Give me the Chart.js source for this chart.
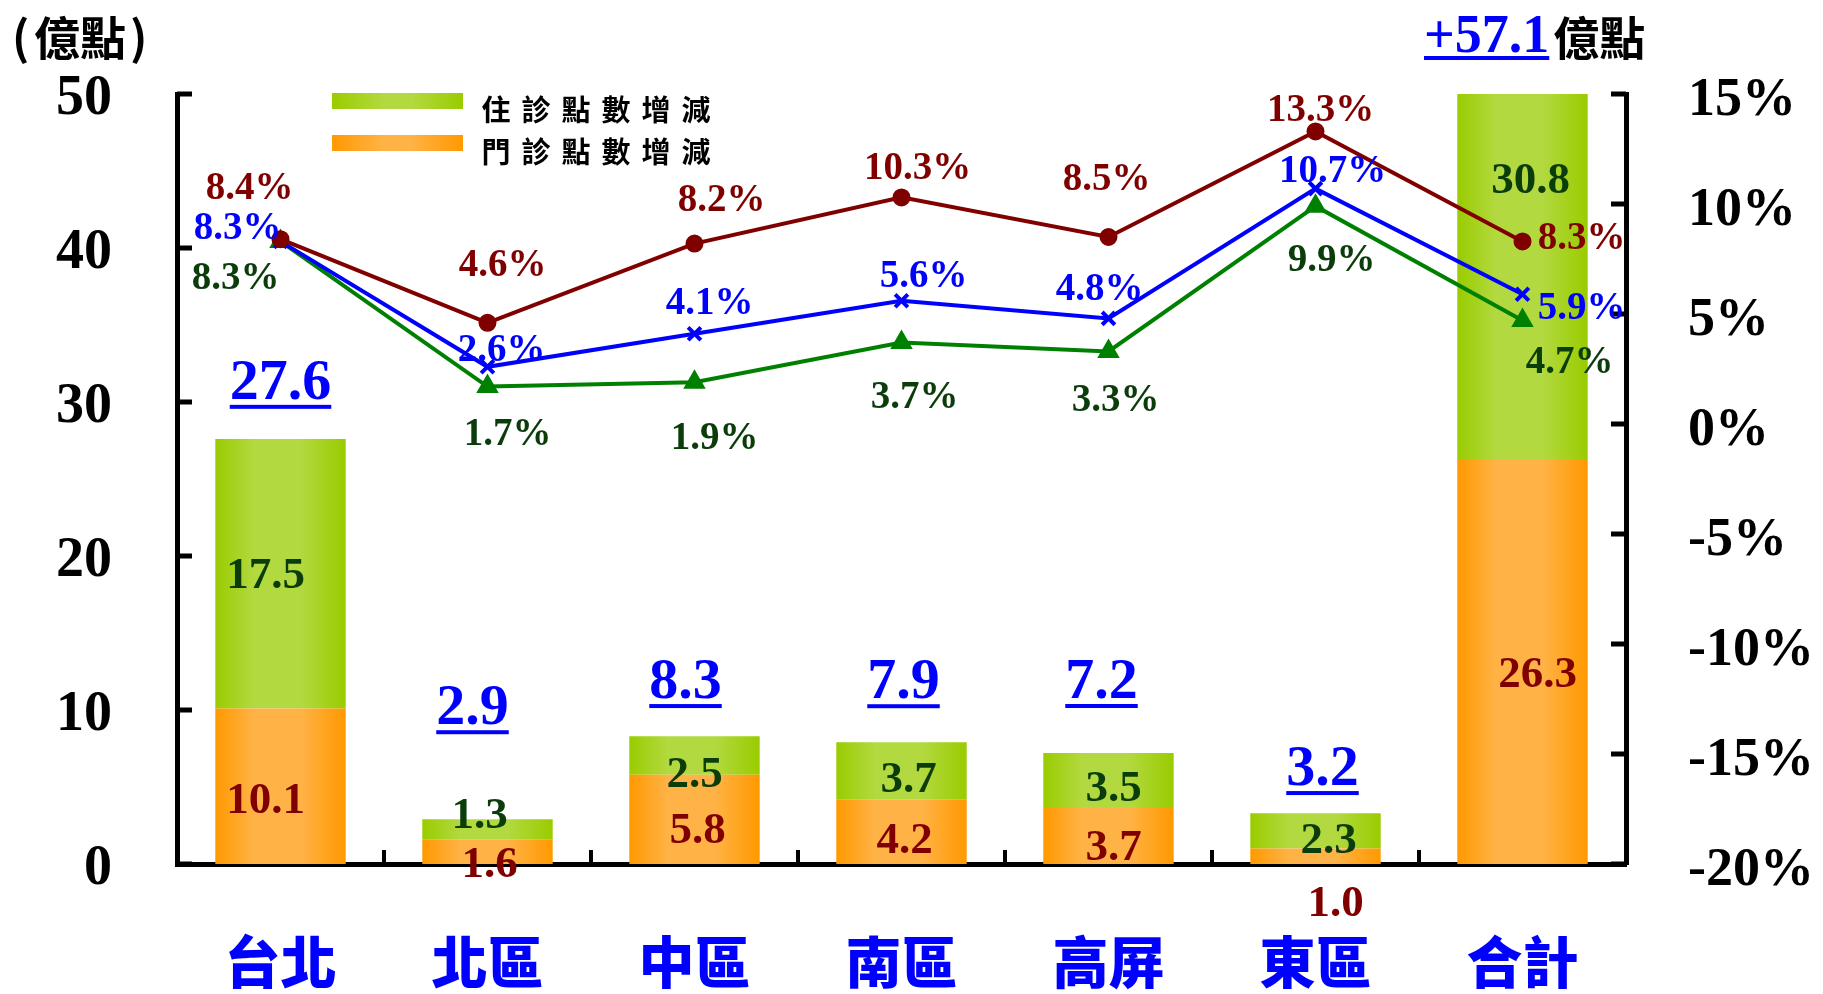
<!DOCTYPE html>
<html lang="zh-Hant">
<head>
<meta charset="utf-8">
<title>各區門住診點數增減</title>
<script src="https://cdn.jsdelivr.net/npm/chart.js@4.4.1/dist/chart.umd.min.js"></script>
<style>
  html, body { margin: 0; padding: 0; background: #fff; }
  #wrap { width: 1823px; height: 994px; }
</style>
</head>
<body>
<div id="wrap"><canvas id="chart" width="1823" height="994"></canvas></div>
<script>
// 各區點數增減 (億點) 與成長率 (%)
const regions = ['台北', '北區', '中區', '南區', '高屏', '東區', '合計'];
const outpatient = [10.1, 1.6, 5.8, 4.2, 3.7, 1.0, 26.3];   // 門診點數增減
const inpatient = [17.5, 1.3, 2.5, 3.7, 3.5, 2.3, 30.8];    // 住診點數增減
const totals = [27.6, 2.9, 8.3, 7.9, 7.2, 3.2, 57.1];
const rateRed = [8.4, 4.6, 8.2, 10.3, 8.5, 13.3, 8.3];
const rateBlue = [8.3, 2.6, 4.1, 5.6, 4.8, 10.7, 5.9];
const rateGreen = [8.3, 1.7, 1.9, 3.7, 3.3, 9.9, 4.7];
const leftTicks = [0, 10, 20, 30, 40, 50];
const rightTicks = [-20, -15, -10, -5, 0, 5, 10, 15];

// label nudges in pixels [dx, dy]
const redNudge = [[-31, -50], [15, -57], [27, -43], [16, -28], [-2, -57], [5, -20], [59, -2]];
const blueNudge = [[-43, -12], [14, -16], [15, -30], [22, -24], [-9, -28], [17, -17], [59, 15]];
const greenNudge = [[-45, 38], [20, 48], [20, 57], [13, 55], [7, 50], [16, 55], [47, 42]];
const inNudge = [[-15, 3], [-8, -13], [0, 20], [7, 10], [5, 9], [13, 10], [8, -40]];
const outNudge = [[-15, 15], [2, 14], [3, 12], [3, 10], [5, 13], [20, 48], [15, 14]];
const totalNudge = [[0, -55], [-15, -110], [-9, -53], [2, -59], [-7, -70], [7, -43]];

const SERIF = '"Liberation Serif", "Times New Roman", serif';
const CJK = '"Noto Sans CJK TC", "Noto Sans CJK SC", sans-serif';
const BAR_PCT = 0.63;

function barFill(edge, mid) {
  return (ctx) => {
    const chart = ctx.chart;
    const xs = chart.scales.x;
    if (!chart.chartArea || !xs || ctx.type !== 'data') return mid;
    const cx = xs.getPixelForValue(ctx.dataIndex);
    const half = xs.width / regions.length * BAR_PCT / 2;
    const g = chart.ctx.createLinearGradient(cx - half, 0, cx + half, 0);
    g.addColorStop(0, edge);
    g.addColorStop(0.3, mid);
    g.addColorStop(0.65, mid);
    g.addColorStop(1, edge);
    return g;
  };
}

function drawText(c, str, x, y, font, color) {
  c.font = font;
  c.fillStyle = color;
  c.textAlign = 'center';
  c.textBaseline = 'middle';
  c.fillText(str, x, y);
}

function underline(c, str, x, y, size, color) {
  const w = c.measureText(str).width;
  c.fillStyle = color;
  c.fillRect(x - w / 2, y + size * 0.36, w, 4);
}

const annotate = {
  id: 'annotate',
  afterDraw(chart) {
    const c = chart.ctx;
    const { x, y, y1 } = chart.scales;
    const area = chart.chartArea;
    c.save();

    // inward tick marks
    c.fillStyle = '#000';
    y.ticks.forEach((t) => {
      const py = y.getPixelForValue(t.value);
      c.fillRect(area.left, py - 2.5, 15, 5);
    });
    y1.ticks.forEach((t) => {
      const py = y1.getPixelForValue(t.value);
      c.fillRect(area.right - 15, py - 2.5, 15, 5);
    });
    for (let i = 1; i < regions.length; i++) {
      const px = (x.getPixelForValue(i) + x.getPixelForValue(i - 1)) / 2;
      c.fillRect(px - 2, area.bottom - 14, 4, 14);
    }

    // bar segment values
    regions.forEach((r, i) => {
      const cx = x.getPixelForValue(i);
      const oy = y.getPixelForValue(outpatient[i] / 2);
      drawText(c, outpatient[i].toFixed(1), cx + outNudge[i][0], oy + outNudge[i][1],
        'bold 45px ' + SERIF, '#800000');
      const iy = y.getPixelForValue(outpatient[i] + inpatient[i] / 2);
      drawText(c, inpatient[i].toFixed(1), cx + inNudge[i][0], iy + inNudge[i][1],
        'bold 45px ' + SERIF, '#0b3d0b');
    });

    // stack totals, underlined
    totalNudge.forEach((n, i) => {
      const cx = x.getPixelForValue(i) + n[0];
      const ty = y.getPixelForValue(outpatient[i] + inpatient[i]) + n[1];
      const s = totals[i].toFixed(1);
      drawText(c, s, cx, ty, 'bold 58px ' + SERIF, '#0000ff');
      underline(c, s, cx, ty, 58, '#0000ff');
    });

    // growth-rate labels
    const rates = [
      [rateRed, redNudge, '#800000', 2],
      [rateBlue, blueNudge, '#0000ff', 3],
      [rateGreen, greenNudge, '#0b3d0b', 4],
    ];
    rates.forEach(([vals, nudge, color, ds]) => {
      const meta = chart.getDatasetMeta(ds);
      meta.data.forEach((pt, i) => {
        drawText(c, vals[i].toFixed(1) + '%', pt.x + nudge[i][0], pt.y + nudge[i][1],
          'bold 39px ' + SERIF, color);
      });
    });

    // legend
    const swatches = [
      ['住診點數增減', '#99cc00', '#b3d940', 93],
      ['門診點數增減', '#ff9900', '#ffb347', 135],
    ];
    swatches.forEach(([label, edge, mid, top]) => {
      const g = c.createLinearGradient(332, 0, 463, 0);
      g.addColorStop(0, edge);
      g.addColorStop(0.4, mid);
      g.addColorStop(0.6, mid);
      g.addColorStop(1, edge);
      c.fillStyle = g;
      c.fillRect(332, top, 131, 16);
      c.font = 'bold 29px ' + CJK;
      c.fillStyle = '#000';
      c.textAlign = 'center';
      c.textBaseline = 'middle';
      [...label].forEach((ch, k) => c.fillText(ch, 496 + k * 40, top + 17));
    });

    // unit and grand total heading
    c.textAlign = 'left';
    c.textBaseline = 'middle';
    c.font = 'bold 46px ' + CJK;
    c.fillStyle = '#000';
    c.fillText('(', 12, 38);
    c.fillText('億點', 34, 38);
    c.fillText(')', 130, 38);

    const head = '+' + totals[totals.length - 1].toFixed(1);
    c.font = 'bold 54px ' + SERIF;
    const hw = c.measureText(head).width;
    c.fillStyle = '#0000ff';
    c.fillText(head, 1424, 38);
    c.fillRect(1424, 56, hw, 4);
    c.font = 'bold 46px ' + CJK;
    c.fillStyle = '#000';
    c.fillText('億點', 1424 + hw + 4, 38);

    c.restore();
  }
};

new Chart(document.getElementById('chart'), {
  data: {
    labels: regions,
    datasets: [
      {
        type: 'bar', label: '門診點數增減', data: outpatient, yAxisID: 'y', stack: 's', order: 2,
        backgroundColor: barFill('#ff9900', '#ffb347'),
        categoryPercentage: 1, barPercentage: BAR_PCT, borderWidth: 0
      },
      {
        type: 'bar', label: '住診點數增減', data: inpatient, yAxisID: 'y', stack: 's', order: 2,
        backgroundColor: barFill('#99cc00', '#b3d940'),
        categoryPercentage: 1, barPercentage: BAR_PCT, borderWidth: 0
      },
      {
        type: 'line', label: 'red', data: rateRed, yAxisID: 'y1', order: 1,
        borderColor: '#800000', backgroundColor: '#800000', borderWidth: 4,
        pointStyle: 'circle', pointRadius: 7, tension: 0
      },
      {
        type: 'line', label: 'blue', data: rateBlue, yAxisID: 'y1', order: 1,
        borderColor: '#0000ff', backgroundColor: '#0000ff', borderWidth: 4,
        pointStyle: 'crossRot', pointRadius: 9, pointBorderWidth: 4, tension: 0
      },
      {
        type: 'line', label: 'green', data: rateGreen, yAxisID: 'y1', order: 1,
        borderColor: '#008000', backgroundColor: '#008000', borderWidth: 4,
        pointStyle: 'triangle', pointRadius: 9, tension: 0
      }
    ]
  },
  options: {
    responsive: false,
    animation: false,
    events: [],
    layout: { padding: { top: 94, left: 0, right: 0, bottom: 0 } },
    plugins: { legend: { display: false }, tooltip: { enabled: false } },
    scales: {
      x: {
        type: 'category',
        offset: true,
        stacked: true,
        grid: { display: false, drawTicks: false },
        border: { display: true, color: '#000', width: 5 },
        ticks: { color: '#0000ff', padding: 64, font: { family: CJK, size: 56, weight: '900' } },
        afterFit(scale) { scale.height = 130; }
      },
      y: {
        position: 'left',
        stacked: true,
        min: leftTicks[0],
        max: leftTicks[leftTicks.length - 1],
        grid: { display: false, drawTicks: false },
        border: { display: true, color: '#000', width: 5 },
        ticks: {
          stepSize: 10, color: '#000', padding: 65, labelOffset: 6,
          font: { family: SERIF, size: 56, weight: 'bold', lineHeight: 0.5 }
        },
        afterFit(scale) { scale.width = 177; }
      },
      y1: {
        position: 'right',
        min: rightTicks[0],
        max: rightTicks[rightTicks.length - 1],
        grid: { display: false, drawTicks: false },
        border: { display: true, color: '#000', width: 5 },
        ticks: {
          stepSize: 5, color: '#000', padding: 62, labelOffset: 7,
          font: { family: SERIF, size: 54, weight: 'bold', lineHeight: 0.5 },
          callback: (v) => v + '%'
        },
        afterFit(scale) { scale.width = 197; }
      }
    }
  },
  plugins: [annotate]
});
</script>
</body>
</html>
